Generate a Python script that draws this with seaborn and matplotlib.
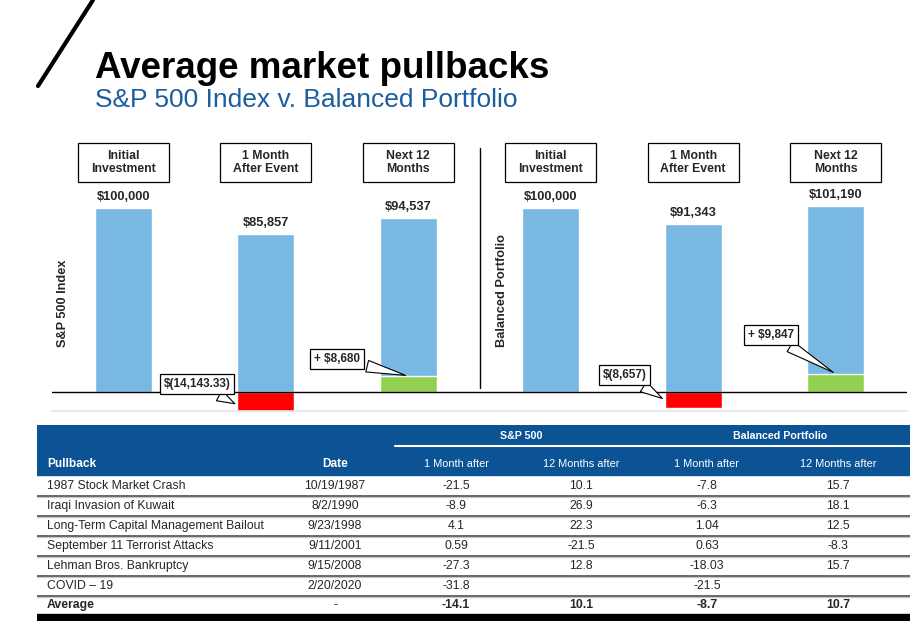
import numpy as np
import pandas as pd
import seaborn as sns
import matplotlib.pyplot as plt
import matplotlib.transforms as mtransforms
from matplotlib.lines import Line2D
from matplotlib.patches import Rectangle

# chart data
portfolios = ['S&P 500 Index', 'Balanced Portfolio']
stages = ['Initial\nInvestment', '1 Month\nAfter Event', 'Next 12\nMonths']
end_values = [100000, 85857, 94537, 100000, 91343, 101190]
changes = [np.nan, -14143.33, 8680, np.nan, -8657, 9847]
value_labels = ['$100,000', '$85,857', '$94,537', '$100,000', '$91,343', '$101,190']
change_labels = ['', '$(14,143.33)', '+ $8,680', '', '$(8,657)', '+ $9,847']

# table data
pullbacks = ['1987 Stock Market Crash', 'Iraqi Invasion of Kuwait',
             'Long-Term Capital Management Bailout', 'September 11 Terrorist Attacks',
             'Lehman Bros. Bankruptcy', 'COVID \u2013 19']
dates = ['10/19/1987', '8/2/1990', '9/23/1998', '9/11/2001', '9/15/2008', '2/20/2020']
sp_1m = [-21.5, -8.9, 4.1, 0.59, -27.3, -31.8]
sp_12m = [10.1, 26.9, 22.3, -21.5, 12.8, None]
bal_1m = [-7.8, -6.3, 1.04, 0.63, -18.03, -21.5]
bal_12m = [15.7, 18.1, 12.5, -8.3, 15.7, None]
avg_row = ['Average', '-', -14.1, 10.1, -8.7, 10.7]

BLUE = '#79b8e2'
RED = '#ff0000'
GREEN = '#92d050'
NAVY = '#0b5394'
SUBBLUE = '#1b5e9f'

sns.set_theme(style='white')
plt.rcParams['font.family'] = ['Liberation Sans', 'DejaVu Sans']

W, H = 923, 634
fig = plt.figure(figsize=(W / 100, H / 100), dpi=100)


def px_axes(x0, y0, x1, y1):
    # axes placed by pixel box (top-left origin)
    return fig.add_axes([x0 / W, 1 - y1 / H, (x1 - x0) / W, (y1 - y0) / H])


# title block
fig.add_artist(Line2D([93 / W, 38 / W], [1, 1 - 86 / H], color='black', lw=3))
fig.text(95 / W, 1 - 78 / H, 'Average market pullbacks', fontsize=26.5,
         fontweight='bold', va='baseline', color='black')
fig.text(95 / W, 1 - 107 / H, 'S&P 500 Index v. Balanced Portfolio', fontsize=19,
         va='baseline', color=SUBBLUE)

# bar chart
df = pd.DataFrame({
    'slot': [f'{p}|{s}' for p in portfolios for s in stages],
    'value': end_values,
    'change': changes,
})
df['direction'] = np.where(df['change'] < 0, 'loss', 'gain')
slots = list(df['slot'])

ax = px_axes(52, 140, 907, 411)
sns.barplot(data=df, x='slot', y='value', order=slots, color=BLUE, saturation=1,
            width=0.4, errorbar=None, ax=ax)
chg = df.dropna(subset=['change'])
sns.barplot(data=chg, x='slot', y='change', order=slots, hue='direction',
            palette={'loss': RED, 'gain': GREEN}, saturation=1, width=0.4,
            dodge=False, errorbar=None, legend=False, ax=ax)

scale = 184 / 100000  # pixels per dollar
ax.set_ylim(-19 / scale, 252 / scale)
ax.set_xlim(-0.5, 5.5)
ax.axhline(0, color='black', lw=1)
ax.set_xticks([])
ax.set_yticks([])
ax.set_xlabel('')
ax.set_ylabel('')
for s in ['top', 'left', 'right']:
    ax.spines[s].set_visible(False)
ax.spines['bottom'].set_color('#e6e6e6')
ax.axvline(2.5, ymin=0.085, ymax=0.97, color='black', lw=1)

trans = mtransforms.blended_transform_factory(ax.transData, ax.transAxes)
for i, stage in enumerate(stages * 2):
    ax.add_patch(Rectangle((i - 0.32, 0.845), 0.64, 0.144, transform=trans,
                           facecolor='white', edgecolor='black', lw=0.9, clip_on=False))
    ax.text(i, 0.917, stage, transform=trans, ha='center', va='center',
            fontsize=8.8, fontweight='bold', linespacing=1.05)

for i, (v, lab) in enumerate(zip(end_values, value_labels)):
    ax.annotate(lab, xy=(i, v), xytext=(0, 5), textcoords='offset pixels',
                ha='center', va='bottom', fontsize=9.3, fontweight='bold')

ylabel_x = [-0.42, 2.66]
for p, x in zip(portfolios, ylabel_x):
    ax.text(x, 0.236, p, transform=trans, rotation=90, ha='center', va='bottom',
            fontsize=9.2, fontweight='bold')

# callouts for the change bars
callout_offsets = {1: (-40, 21), 2: (-71, 17), 4: (-40, 25), 5: (-65, 39)}
for i, (c, lab) in enumerate(zip(changes, change_labels)):
    if np.isnan(c):
        continue
    xy = (i - 0.2, c / 2) if c < 0 else (i, c)
    ax.annotate(lab, xy=xy, xytext=callout_offsets[i], textcoords='offset pixels',
                ha='center', va='center', fontsize=8.5, fontweight='bold',
                bbox=dict(boxstyle='square,pad=0.32', fc='white', ec='black', lw=0.9),
                arrowprops=dict(arrowstyle='wedge,tail_width=1.0,shrink_factor=0.5',
                                fc='white', ec='black', lw=0.8))

# table
tx = px_axes(37, 425, 910, 621)
tx.set_xlim(37, 910)
tx.set_ylim(621, 425)
tx.axis('off')
tx.add_patch(Rectangle((37, 425), 873, 50, color=NAVY))
tx.plot([395, 910], [446.5, 446.5], color='white', lw=1.5)

col_x = [47, 335, 456, 581, 707, 838]
tx.text(521, 436, 'S&P 500', ha='center', va='center', color='white',
        fontsize=7.7, fontweight='bold')
tx.text(780, 436, 'Balanced Portfolio', ha='center', va='center', color='white',
        fontsize=7.7, fontweight='bold')
tx.text(col_x[0], 464, 'Pullback', ha='left', va='center', color='white',
        fontsize=8.6, fontweight='bold')
tx.text(col_x[1], 464, 'Date', ha='center', va='center', color='white',
        fontsize=8.6, fontweight='bold')
for x, h in zip(col_x[2:], ['1 Month after', '12 Months after'] * 2):
    tx.text(x, 464, h, ha='center', va='center', color='white', fontsize=7.9)


def fmt(v):
    return '' if v is None else f'{v:g}'


row_top = 476
row_h = 20
for r, cells in enumerate(zip(pullbacks, dates, sp_1m, sp_12m, bal_1m, bal_12m)):
    yc = row_top + r * row_h + row_h / 2
    tx.text(col_x[0], yc, cells[0], ha='left', va='center', fontsize=8.8)
    tx.text(col_x[1], yc, cells[1], ha='center', va='center', fontsize=8.8)
    for x, v in zip(col_x[2:], cells[2:]):
        tx.text(x, yc, fmt(v), ha='center', va='center', fontsize=8.8)
    yl = row_top + (r + 1) * row_h
    tx.plot([37, 910], [yl + 1.2, yl + 1.2], color='#c8c8c8', lw=1)
    tx.plot([37, 910], [yl, yl], color='#404040', lw=1.1)

yc = row_top + len(pullbacks) * row_h + 9
tx.text(col_x[0], yc, avg_row[0], ha='left', va='center', fontsize=8.8, fontweight='bold')
tx.text(col_x[1], yc, avg_row[1], ha='center', va='center', fontsize=8.8)
for x, v in zip(col_x[2:], avg_row[2:]):
    tx.text(x, yc, fmt(v), ha='center', va='center', fontsize=8.8, fontweight='bold')
tx.add_patch(Rectangle((37, 614), 873, 6, color='black'))

fig.savefig('out.png', dpi=100)
